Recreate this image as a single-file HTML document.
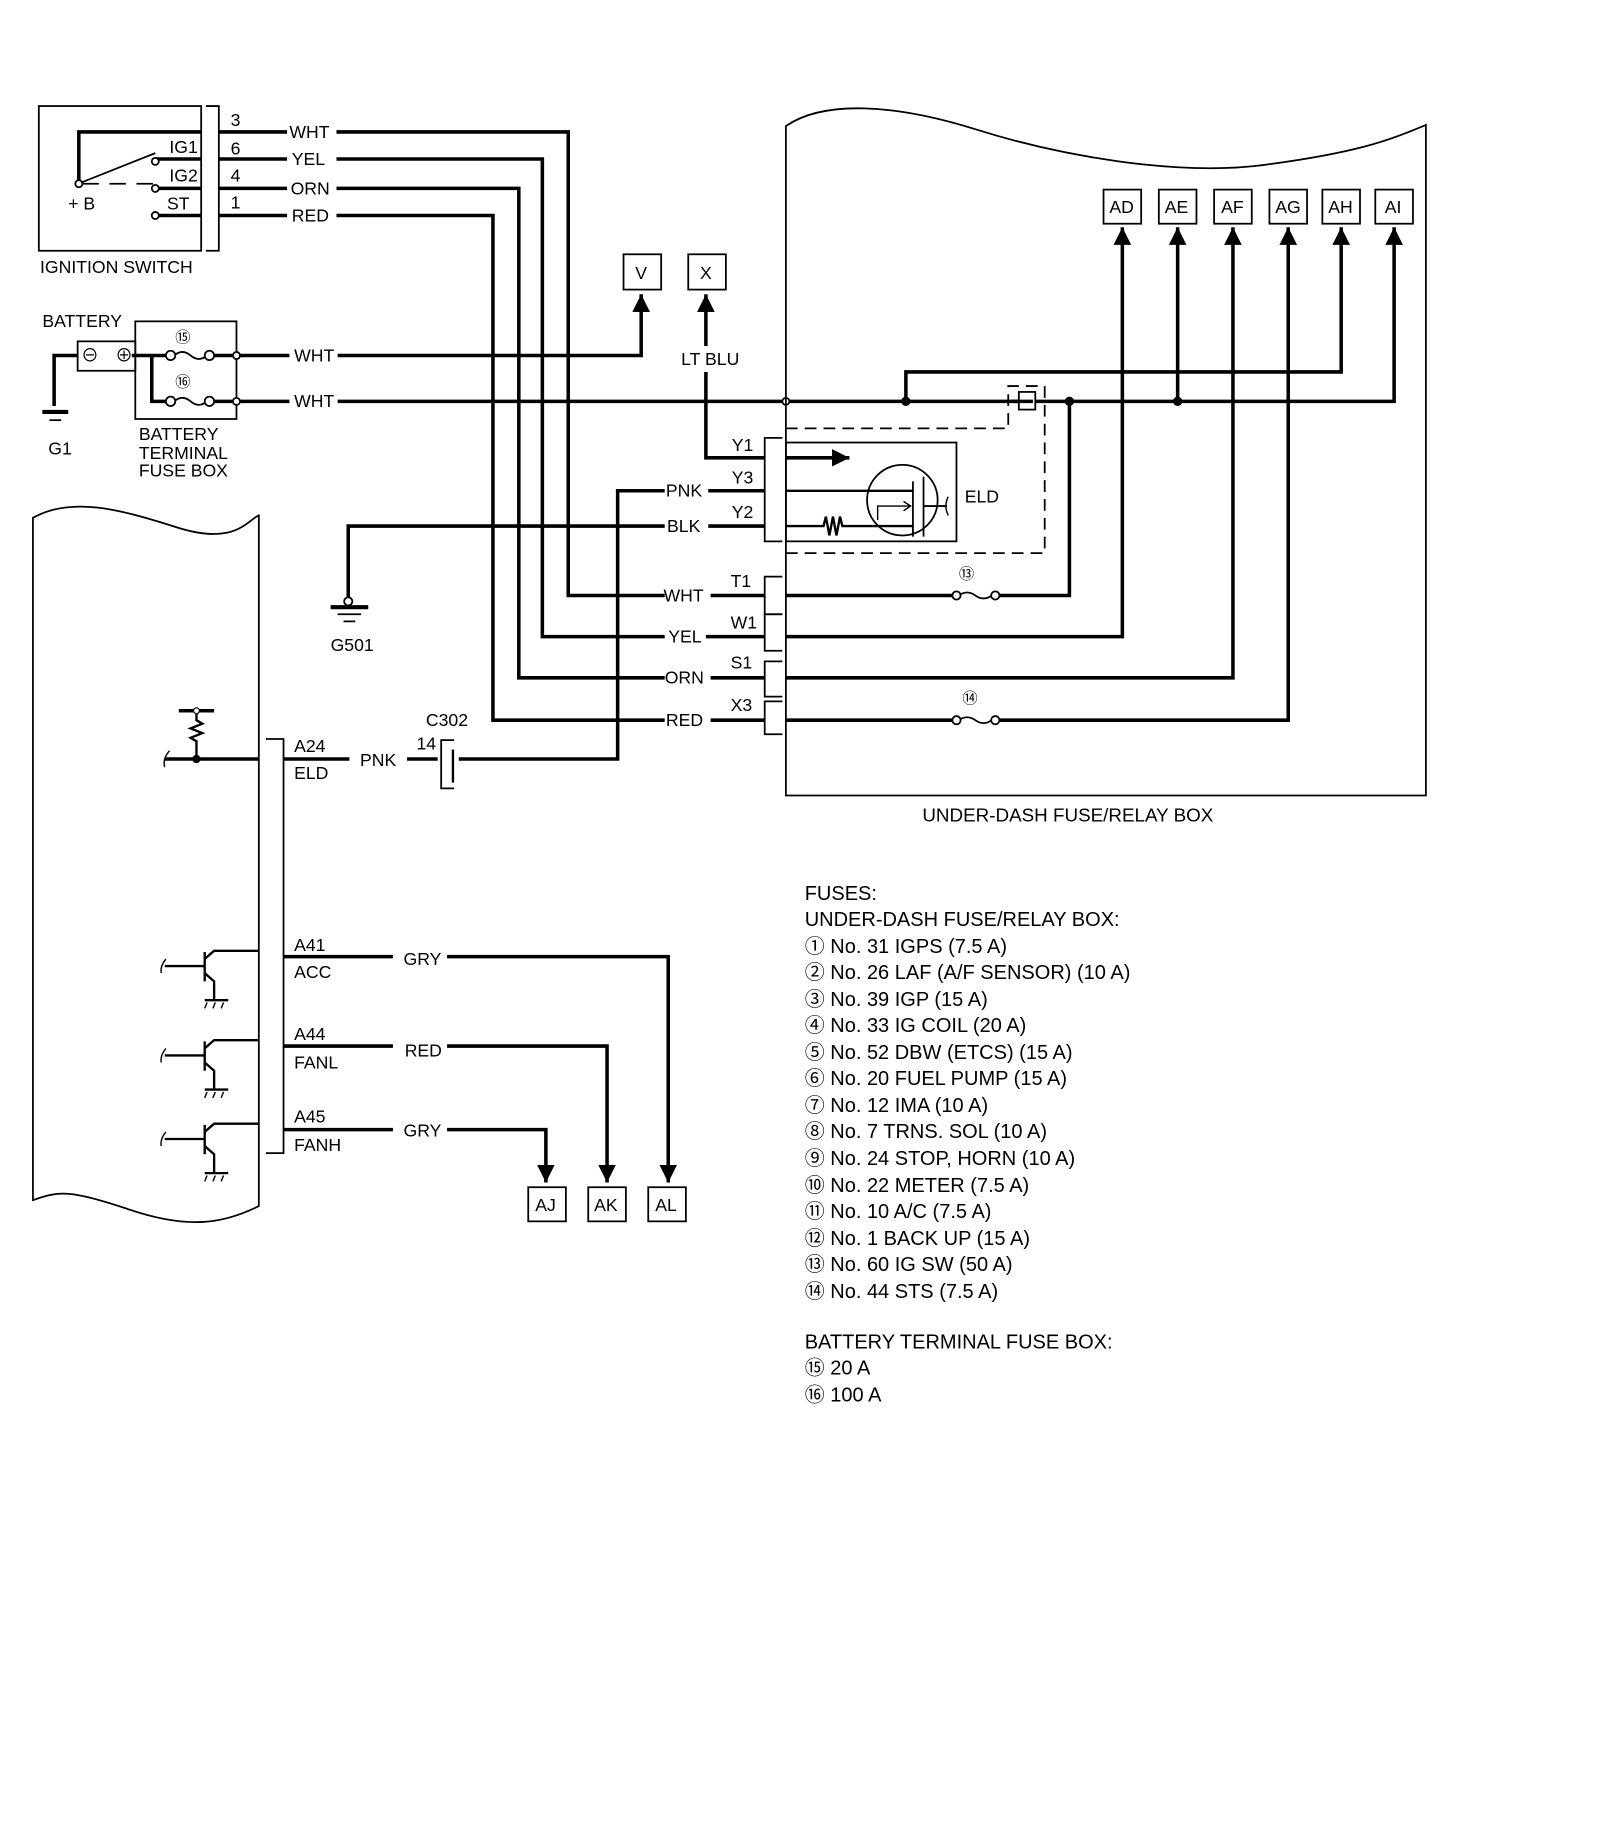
<!DOCTYPE html>
<html><head><meta charset="utf-8"><style>
html,body{margin:0;padding:0;background:#fff;}
svg{display:block;}
text{font-family:"Liberation Sans","Noto Sans CJK JP",sans-serif;fill:#000;}
</style></head><body>
<svg width="1600" height="1838" viewBox="0 0 1360 1562" xmlns="http://www.w3.org/2000/svg">
<defs>
<marker id="ar" viewBox="0 0 10 10" refX="10" refY="5" markerWidth="5" markerHeight="5" orient="auto-start-reverse"><path d="M0,0L10,5L0,10z" fill="#000"/></marker>
</defs>
<g fill="none" stroke="#000">
<rect x="33" y="90" width="138" height="123" stroke-width="1.5"/>
<path d="M175,90H186V213H175" stroke-width="1.5"/>
<g stroke-width="3">
<path d="M67,153V112H171M186,112H244M286,112H483V506H565"/>
<path d="M132,135H171M186,135H244M286,135H461V541H565"/>
<path d="M132,160H171M186,160H244M286,160H441V576H565"/>
<path d="M132,183H171M186,183H244M286,183H419V612H565"/>
</g>
<circle cx="67" cy="156" r="3" fill="#fff" stroke-width="1.5"/>
<circle cx="132" cy="137" r="3" fill="#fff" stroke-width="1.5"/>
<circle cx="132" cy="160" r="3" fill="#fff" stroke-width="1.5"/>
<circle cx="132" cy="183" r="3" fill="#fff" stroke-width="1.5"/>
<path d="M69,155L132,130" stroke-width="1.5"/>
<path d="M70,156H132" stroke-width="1.5" stroke-dasharray="14,9"/>

<rect x="66" y="290" width="49" height="25" stroke-width="1.5"/>
<rect x="115" y="273" width="86" height="83" stroke-width="1.5"/>
<path d="M66,302H46V345" stroke-width="3"/>
<path d="M36,350H58" stroke-width="3.5"/>
<path d="M42,357H52" stroke-width="1.5"/>
<path d="M112,302H142M129,302V341H142" stroke-width="3"/>
<path d="M148,302q7,-6 14,0t14,0M148,341q7,-6 14,0t14,0" stroke-width="1.5"/>
<circle cx="145" cy="302" r="4" fill="#fff" stroke-width="1.5"/>
<circle cx="178" cy="302" r="4" fill="#fff" stroke-width="1.5"/>
<circle cx="145" cy="341" r="4" fill="#fff" stroke-width="1.5"/>
<circle cx="178" cy="341" r="4" fill="#fff" stroke-width="1.5"/>
<path d="M182,302H198M182,341H198" stroke-width="3"/>
<circle cx="201" cy="302" r="3" fill="#fff" stroke-width="1.5"/>
<circle cx="201" cy="341" r="3" fill="#fff" stroke-width="1.5"/>
<path d="M204,302H246M287,302H545V250" stroke-width="3" marker-end="url(#ar)"/>
<path d="M204,341H246M287,341H665M671,341H1185V193" stroke-width="3" marker-end="url(#ar)"/>
<circle cx="668" cy="341" r="3" fill="#fff" stroke-width="1.5"/>

<rect x="530" y="216" width="32" height="30" stroke-width="1.5"/>
<rect x="585" y="216" width="32" height="30" stroke-width="1.5"/>
<path d="M600,294V250" stroke-width="3" marker-end="url(#ar)"/>
<path d="M600,316V389H650" stroke-width="3"/>

<path d="M668,676V107C700,85 760,88 830,110S1000,150 1075,140S1180,120 1212,106V676H668Z" stroke-width="1.5"/>
<g stroke-width="1.5">
<rect x="938" y="161" width="32" height="29"/><rect x="985" y="161" width="32" height="29"/>
<rect x="1032" y="161" width="32" height="29"/><rect x="1079" y="161" width="32" height="29"/>
<rect x="1124" y="161" width="32" height="29"/><rect x="1169" y="161" width="32" height="29"/>
</g>
<g stroke-width="3" marker-end="url(#ar)">
<path d="M668,541H954V193"/>
<path d="M1001,341V193"/>
<path d="M668,576H1048V193"/>
<path d="M668,612H812M846,612H1095V193"/>
<path d="M770,341V316H1140V193"/>
</g>
<path d="M668,506H812M846,506H909V341" stroke-width="3"/>
<circle cx="770" cy="341" r="3.5" fill="#000"/>
<circle cx="1001" cy="341" r="3.5" fill="#000"/>
<circle cx="909" cy="341" r="3.5" fill="#000"/>
<path d="M815,506q7,-5 14,0t14,0M815,612q7,-5 14,0t14,0" stroke-width="1.5"/>
<circle cx="813" cy="506" r="3.5" fill="#fff" stroke-width="1.5"/>
<circle cx="846" cy="506" r="3.5" fill="#fff" stroke-width="1.5"/>
<circle cx="813" cy="612" r="3.5" fill="#fff" stroke-width="1.5"/>
<circle cx="846" cy="612" r="3.5" fill="#fff" stroke-width="1.5"/>
<path d="M668,364H857V328H888V470H668" stroke-width="1.5" stroke-dasharray="10,6"/>
<rect x="866" y="333" width="14" height="15" stroke-width="1.5" fill="#fff"/>
<path d="M860,341H878" stroke-width="3"/>
<rect x="668" y="376" width="145" height="84" stroke-width="1.5"/>
<path d="M668,389H722" stroke-width="3" marker-end="url(#ar)"/>
<circle cx="767" cy="425" r="30" stroke-width="1.5"/>
<path d="M668,417H776M668,447H700l2,-8l3,16l3,-16l3,16l3,-16l2,8H776" stroke-width="2"/>
<path d="M776,409V456M785,405V456M785,430H805" stroke-width="1.5"/>
<path d="M746,442V430H774" stroke-width="1.2"/>
<path d="M768,426L774,430L768,434" stroke-width="1.2"/>
<path d="M806,422q-4,8 0,16" stroke-width="1.2"/>
<g stroke-width="1.5">
<path d="M665,372H650V460H665"/>
<path d="M665,490H650V522H665"/>
<path d="M665,522H650V553H665"/>
<path d="M665,562H650V592H665"/>
<path d="M665,596H650V624H665"/>
</g>
<path d="M650,417H602M565,417H525V645H390" stroke-width="3"/>
<path d="M650,447H602M565,447H296V508" stroke-width="3"/>
<path d="M604,506H650M600,541H650M604,576H650M604,612H650" stroke-width="3"/>
<circle cx="296" cy="511" r="3.5" fill="#fff" stroke-width="1.5"/>
<path d="M281,516H313" stroke-width="3.5"/><path d="M287,522H307M292,528H302" stroke-width="1.5"/>

<path d="M28,1020V440C60,422 100,432 150,448S210,442 220,438V1025C190,1040 160,1045 110,1028S50,1012 28,1020Z" stroke-width="1.5"/>
<path d="M226,628H241V980H226" stroke-width="1.5"/>
<path d="M140,645H220M241,645H297M346,645H372" stroke-width="3"/>
<path d="M144,638q-6,7 -4,14" stroke-width="1.2"/>
<circle cx="167" cy="645" r="3" fill="#000"/>
<path d="M167,645V630l-5,-3l10,-4l-10,-4l10,-4l-5,-3V604" stroke-width="2"/>
<path d="M152,604H182" stroke-width="3"/>
<circle cx="167" cy="604" r="2.5" fill="#fff" stroke-width="1"/>
<path d="M386,629H375V670H386" stroke-width="1.5"/>
<path d="M385,637V665" stroke-width="2"/>
<g stroke-width="3">
<path d="M241,813H334M380,813H568V1005" marker-end="url(#ar)"/>
<path d="M241,889H334M380,889H516V1005" marker-end="url(#ar)"/>
<path d="M241,960H334M380,960H464V1005" marker-end="url(#ar)"/>
</g>
<g stroke-width="1.5">
<rect x="449" y="1009" width="32" height="29"/><rect x="500" y="1009" width="32" height="29"/><rect x="551" y="1009" width="32" height="29"/>
</g>
<g id="tr" stroke-width="2">
<path d="M140,821H174M174,809V834M174,815L182,808H220M174,827L182,834V850M174,850H194"/>
<path d="M176,852l-2,5M183,852l-2,5M190,852l-2,5" stroke-width="1.2"/>
<path d="M141,815q-5,6 -4,12" stroke-width="1.2"/>
</g>
<use href="#tr" transform="translate(0,76)"/>
<use href="#tr" transform="translate(0,147)"/>
</g>

<g font-size="15">
<text x="196" y="107">3</text><text x="196" y="131">6</text><text x="196" y="154">4</text><text x="196" y="177">1</text>
<text x="246" y="117">WHT</text><text x="248" y="140">YEL</text><text x="247" y="165">ORN</text><text x="248" y="188">RED</text>
<text x="144" y="130">IG1</text><text x="144" y="154">IG2</text><text x="142" y="178">ST</text><text x="58" y="178">+ B</text>
<text x="34" y="232">IGNITION SWITCH</text>
<text x="36" y="278">BATTERY</text>
<text x="69" y="307">⊖</text><text x="98" y="307">⊕</text>
<text x="149" y="291" font-size="13">⑮</text><text x="149" y="329" font-size="13">⑯</text>
<text x="250" y="307">WHT</text><text x="250" y="346">WHT</text>
<text x="41" y="386">G1</text>
<text x="118" y="374">BATTERY</text><text x="118" y="390">TERMINAL</text><text x="118" y="405">FUSE BOX</text>
<text x="540" y="237">V</text><text x="595" y="237">X</text>
<text x="579" y="310">LT BLU</text>
<text x="943" y="181">AD</text><text x="990" y="181">AE</text><text x="1038" y="181">AF</text><text x="1084" y="181">AG</text><text x="1129" y="181">AH</text><text x="1177" y="181">AI</text>
<text x="622" y="383">Y1</text><text x="622" y="411">Y3</text><text x="622" y="440">Y2</text>
<text x="621" y="499">T1</text><text x="621" y="534">W1</text><text x="621" y="568">S1</text><text x="621" y="604">X3</text>
<text x="566" y="422">PNK</text><text x="567" y="452">BLK</text><text x="564" y="511">WHT</text><text x="568" y="546">YEL</text><text x="565" y="581">ORN</text><text x="566" y="617">RED</text>
<text x="820" y="427">ELD</text>
<text x="815" y="492" font-size="13">⑬</text><text x="818" y="598" font-size="13">⑭</text>
<text x="281" y="553">G501</text>
<text x="784" y="698" font-size="16">UNDER-DASH FUSE/RELAY BOX</text>
<text x="362" y="617">C302</text><text x="354" y="637">14</text>
<text x="250" y="639">A24</text><text x="250" y="662">ELD</text><text x="306" y="651">PNK</text>
<text x="250" y="808">A41</text><text x="250" y="831">ACC</text><text x="343" y="820">GRY</text>
<text x="250" y="884">A44</text><text x="250" y="908">FANL</text><text x="344" y="898">RED</text>
<text x="250" y="954">A45</text><text x="250" y="978">FANH</text><text x="343" y="966">GRY</text>
<text x="455" y="1029">AJ</text><text x="505" y="1029">AK</text><text x="557" y="1029">AL</text>
</g>
<g font-size="17">
<text x="684" y="765">FUSES:</text>
<text x="684" y="787">UNDER-DASH FUSE/RELAY BOX:</text>
<text x="684" y="810">① No. 31 IGPS (7.5 A)</text>
<text x="684" y="832">② No. 26 LAF (A/F SENSOR) (10 A)</text>
<text x="684" y="855">③ No. 39 IGP (15 A)</text>
<text x="684" y="877">④ No. 33 IG COIL (20 A)</text>
<text x="684" y="900">⑤ No. 52 DBW (ETCS) (15 A)</text>
<text x="684" y="922">⑥ No. 20 FUEL PUMP (15 A)</text>
<text x="684" y="945">⑦ No. 12 IMA (10 A)</text>
<text x="684" y="967">⑧ No. 7 TRNS. SOL (10 A)</text>
<text x="684" y="990">⑨ No. 24 STOP, HORN (10 A)</text>
<text x="684" y="1013">⑩ No. 22 METER (7.5 A)</text>
<text x="684" y="1035">⑪ No. 10 A/C (7.5 A)</text>
<text x="684" y="1058">⑫ No. 1 BACK UP (15 A)</text>
<text x="684" y="1080">⑬ No. 60 IG SW (50 A)</text>
<text x="684" y="1103">⑭ No. 44 STS (7.5 A)</text>
<text x="684" y="1146">BATTERY TERMINAL FUSE BOX:</text>
<text x="684" y="1168">⑮ 20 A</text>
<text x="684" y="1191">⑯ 100 A</text>
</g>
</svg>
</body></html>
